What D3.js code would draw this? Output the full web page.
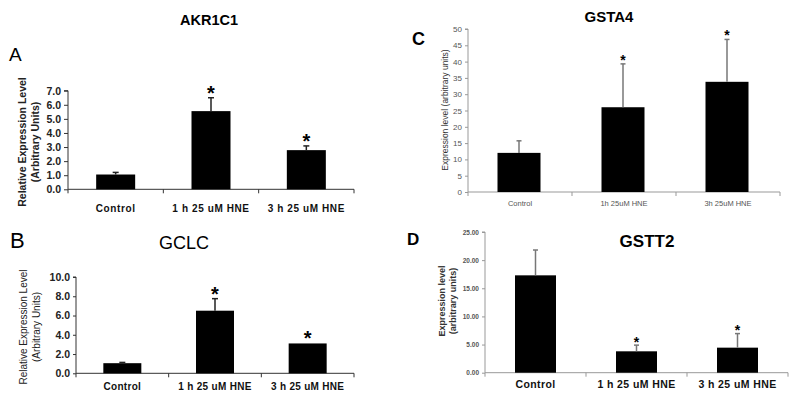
<!DOCTYPE html>
<html><head><meta charset="utf-8">
<script src="https://cdn.jsdelivr.net/npm/d3@7"></script>
<style>body{margin:0;background:#fff}svg{display:block;font-family:"Liberation Sans",Arial,sans-serif}</style>
</head><body><svg id="c" width="800" height="405"></svg>
<script>
// ---- data ----
const catsAB = ["Control", "1 h 25 uM HNE", "3 h 25 uM HNE"];
const catsC = ["Control", "1h 25uM HNE", "3h 25uM HNE"];
const akr1c1Values = [1.05, 5.55, 2.78];
const akr1c1Errors = [0.15, 0.95, 0.3];
const akr1c1Ticks = [0, 1, 2, 3, 4, 5, 6, 7];
const gclcValues = [1.05, 6.5, 3.1];
const gclcErrors = [0.08, 1.25, 0.0];
const gclcTicks = [0, 2, 4, 6, 8, 10];
const gsta4Values = [12.0, 26.0, 33.8];
const gsta4Errors = [3.7, 13.3, 13.0];
const gsta4Ticks = [0, 5, 10, 15, 20, 25, 30, 35, 40, 45, 50];
const gstt2Values = [17.3, 3.8, 4.45];
const gstt2Errors = [4.5, 1.1, 2.5];
const gstt2Ticks = [0, 5, 10, 15, 20, 25];
const sigFlags = [[false, true, true], [false, true, true], [false, true, true], [false, true, true]];

const svg = d3.select("#c");

function panel(o) {
  const x = d3.scaleBand().domain(o.cats).range([o.x0, o.x1]).paddingInner(0).paddingOuter(0);
  const y = d3.scaleLinear().domain([o.ticks[0], o.ticks[o.ticks.length - 1]]).range([o.yb, o.yt]);
  const g = svg.append("g");
  // y axis
  const ya = d3.axisLeft(y).tickValues(o.ticks).tickFormat(d3.format(o.fmt)).tickSize(o.tickLen).tickPadding(3);
  const yg = g.append("g").attr("transform", `translate(${o.x0},0)`).call(ya);
  yg.select(".domain").attr("stroke", o.axisColor).attr("d", `M-${o.tickLen},${o.yt}H0V${o.yb}`);
  yg.selectAll(".tick line").attr("stroke", o.axisColor);
  yg.selectAll("text").attr("font-size", o.tickFont).attr("font-weight", o.tickWeight).attr("fill", o.tickColor).attr("font-family", '"Liberation Sans",Arial,sans-serif');
  // x axis
  g.append("line").attr("x1", o.x0).attr("x2", o.x1).attr("y1", o.yb).attr("y2", o.yb).attr("stroke", o.axisColor);
  const bounds = o.cats.map(c => x(c)).concat([o.x1]);
  g.selectAll(".xt").data(bounds).join("line").attr("x1", d => d).attr("x2", d => d)
    .attr("y1", o.yb).attr("y2", o.yb + 4).attr("stroke", o.axisColor);
  // x labels
  g.selectAll(".xl").data(o.cats).join("text")
    .attr("x", d => x(d) + x.bandwidth() / 2)
    .attr("y", o.xlY).attr("text-anchor", "middle")
    .attr("font-size", o.xlFont).attr("font-weight", o.xlWeight).attr("fill", o.xlColor)
    .attr("letter-spacing", o.xlSpacing || 0)
    .text(d => d);
  // bars
  const bw = o.barW;
  g.selectAll(".bar").data(o.values).join("rect")
    .attr("x", (d, i) => x(o.cats[i]) + x.bandwidth() / 2 - bw / 2 + o.barOff)
    .attr("width", bw).attr("y", d => y(d)).attr("height", d => y(0) - y(d)).attr("fill", "#000");
  // error bars
  o.values.forEach((v, i) => {
    if (o.errors[i] <= 0) return;
    const cx = x(o.cats[i]) + x.bandwidth() / 2 + o.barOff;
    g.append("line").attr("x1", cx).attr("x2", cx).attr("y1", y(v)).attr("y2", y(v + o.errors[i]))
      .attr("stroke", o.errColor).attr("stroke-width", 1.5);
    g.append("line").attr("x1", cx - o.capW / 2).attr("x2", cx + o.capW / 2).attr("y1", y(v + o.errors[i])).attr("y2", y(v + o.errors[i]))
      .attr("stroke", o.errColor).attr("stroke-width", 1.5);
  });
  // asterisks
  o.values.forEach((v, i) => {
    if (!o.sig[i]) return;
    const cx = x(o.cats[i]) + x.bandwidth() / 2 + o.barOff;
    g.append("text").attr("x", cx).attr("y", y(v + o.errors[i]) - o.starGap + o.starFont * 0.55)
      .attr("text-anchor", "middle").attr("font-size", o.starFont).attr("font-weight", "bold").text("*");
  });
  // y label
  o.ylab.forEach((t, k) => {
    g.append("text").attr("transform", `translate(${o.ylX[k]},${o.ylY}) rotate(-90)`)
      .attr("text-anchor", "middle").attr("dominant-baseline", "middle")
      .attr("font-size", o.ylFont).attr("font-weight", o.ylWeight).attr("fill", o.ylColor).text(t);
  });
  // title and letter
  g.append("text").attr("x", o.titleX).attr("y", o.titleY).attr("text-anchor", "middle")
    .attr("font-size", o.titleFont).attr("font-weight", o.titleWeight).text(o.title);
  g.append("text").attr("x", o.letterX).attr("y", o.letterY)
    .attr("font-size", o.letterFont).attr("font-weight", o.letterWeight).text(o.letter);
}

panel({cats: catsAB, values: akr1c1Values, errors: akr1c1Errors, ticks: akr1c1Ticks, sig: sigFlags[0], fmt: ".1f",
  x0: 68, x1: 354, yt: 90.7, yb: 189.3, tickLen: 4, axisColor: "#333", tickFont: 10.5, tickWeight: "bold", tickColor: "#222",
  xlY: 212, xlFont: 10, xlWeight: "bold", xlColor: "#111", xlSpacing: 0.6, barW: 39, barOff: 0, errColor: "#222", capW: 6,
  starFont: 20, starGap: 9, ylab: ["Relative Expression Level", "(Arbitrary Units)"], ylX: [23, 36], ylY: 142, ylFont: 10.5,
  ylWeight: "bold", ylColor: "#222", title: "AKR1C1", titleX: 209, titleY: 25, titleFont: 14.5, titleWeight: "bold",
  letter: "A", letterX: 9, letterY: 61, letterFont: 19, letterWeight: "normal"});

panel({cats: catsAB, values: gclcValues, errors: gclcErrors, ticks: gclcTicks, sig: sigFlags[1], fmt: ".1f",
  x0: 76, x1: 354, yt: 277, yb: 373.3, tickLen: 3, axisColor: "#333", tickFont: 10.5, tickWeight: "bold", tickColor: "#222",
  xlY: 390, xlFont: 10, xlWeight: "bold", xlColor: "#111", xlSpacing: 0.3, barW: 38, barOff: 0, errColor: "#222", capW: 6,
  starFont: 20, starGap: 9, ylab: ["Relative Expression Level", "(Arbitrary Units)"], ylX: [24, 37], ylY: 327, ylFont: 10,
  ylWeight: "normal", ylColor: "#222", title: "GCLC", titleX: 184, titleY: 249, titleFont: 18, titleWeight: "normal",
  letter: "B", letterX: 10, letterY: 248, letterFont: 22, letterWeight: "normal"});

panel({cats: catsC, values: gsta4Values, errors: gsta4Errors, ticks: gsta4Ticks, sig: sigFlags[2], fmt: "d",
  x0: 468, x1: 780, yt: 29, yb: 192, tickLen: 3, axisColor: "#999", tickFont: 8, tickWeight: "normal", tickColor: "#555",
  xlY: 206, xlFont: 7.5, xlWeight: "normal", xlColor: "#555", barW: 43, barOff: -1, errColor: "#777", capW: 5,
  starFont: 14, starGap: 7, ylab: ["Expression level (arbitrary units)"], ylX: [446], ylY: 110, ylFont: 8.5,
  ylWeight: "normal", ylColor: "#333", title: "GSTA4", titleX: 609, titleY: 22, titleFont: 15, titleWeight: "bold",
  letter: "C", letterX: 412, letterY: 45, letterFont: 18, letterWeight: "bold"});

panel({cats: catsAB, values: gstt2Values, errors: gstt2Errors, ticks: gstt2Ticks, sig: sigFlags[3], fmt: ".2f",
  x0: 485, x1: 788, yt: 232, yb: 372.7, tickLen: 3, axisColor: "#999", tickFont: 6.5, tickWeight: "bold", tickColor: "#555",
  xlY: 388, xlFont: 10.5, xlWeight: "bold", xlColor: "#111", xlSpacing: 0.4, barW: 41, barOff: 0, errColor: "#777", capW: 5,
  starFont: 14, starGap: 6, ylab: ["Expression level", "(arbitrary units)"], ylX: [443, 454], ylY: 301, ylFont: 9,
  ylWeight: "bold", ylColor: "#333", title: "GSTT2", titleX: 647, titleY: 247, titleFont: 17, titleWeight: "bold",
  letter: "D", letterX: 407, letterY: 245, letterFont: 17, letterWeight: "bold"});
</script></body></html>
